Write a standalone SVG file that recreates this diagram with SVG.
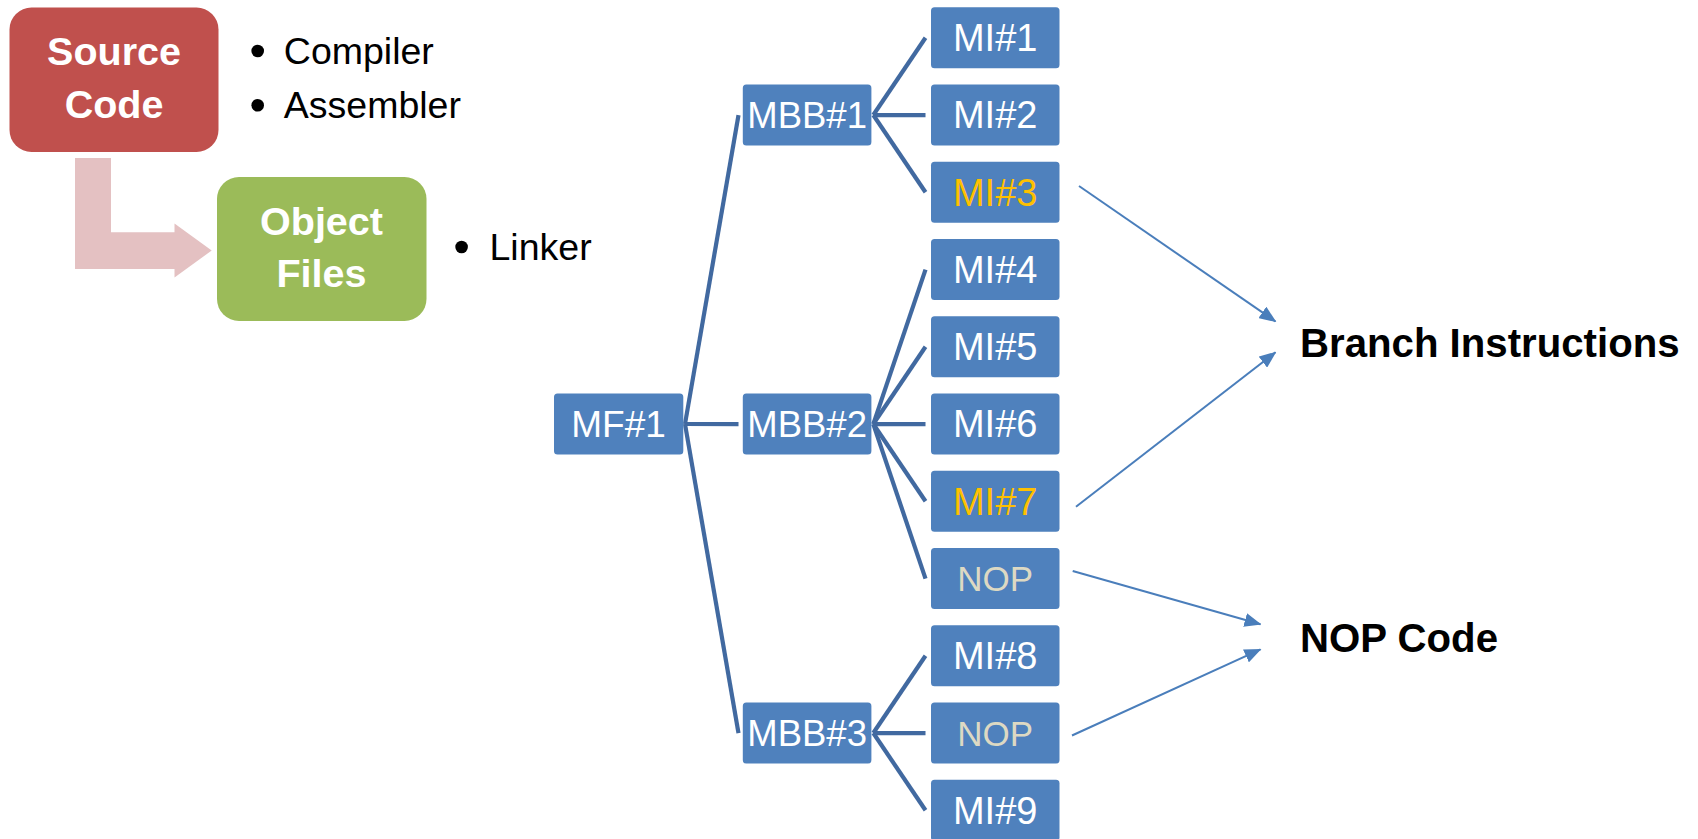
<svg xmlns="http://www.w3.org/2000/svg" width="1698" height="839" viewBox="0 0 1698 839">
  <style>
    .t{font-family:"Liberation Sans",Arial,sans-serif}
    .box{fill:#4F81BD}
    .lbl{fill:#fff;text-anchor:middle}
    .mi{font-size:38px}
    .mbb{font-size:36.5px}
    .nop{font-size:35px;fill:#DDD9C3}
    .br{fill:#FFC000}
    .head{font-size:39.5px;font-weight:bold;fill:#fff;text-anchor:middle}
    .bul{font-size:37.5px;fill:#000}
    .note{font-size:40.2px;font-weight:bold;fill:#000}
    .tree{stroke:#4169A0;stroke-width:4.2;fill:none;stroke-linecap:butt}
    .ptr{stroke:#4A7EBB;stroke-width:2;fill:none;marker-end:url(#ah)}
  </style>
  <defs>
    <marker id="ah" markerUnits="userSpaceOnUse" markerWidth="17" markerHeight="14" viewBox="0 0 17 14" refX="16" refY="7" orient="auto">
      <path d="M0,0 L17,7 L0,14 z" fill="#4A7EBB"/>
    </marker>
  </defs>

  <rect width="1698" height="839" fill="#fff"/>

  <!-- build flow, top left -->
  <g id="flow-arrow">
    <polygon points="75,158 111,158 111,232.3 174.5,232.3 174.5,223.5 211.7,250.5 174.5,277.5 174.5,269 75,269" fill="#E4C1C2"/>
  </g>
  <g id="source-code">
    <rect x="9.5" y="7.5" width="209" height="144.5" rx="22" fill="#C0504D"/>
    <text class="t head" x="114" y="65">Source</text>
    <text class="t head" x="114" y="118.3">Code</text>
  </g>
  <g id="source-tools">
    <circle cx="257.7" cy="51" r="6.3"/>
    <text class="t bul" x="283.8" y="64">Compiler</text>
    <circle cx="257.7" cy="105.3" r="6.3"/>
    <text class="t bul" x="283.8" y="118.3">Assembler</text>
  </g>
  <g id="object-files">
    <rect x="217" y="177" width="209.5" height="144" rx="22" fill="#9BBB59"/>
    <text class="t head" x="321.5" y="235">Object</text>
    <text class="t head" x="321.5" y="287.3">Files</text>
  </g>
  <g id="object-tools">
    <circle cx="461.6" cy="247" r="6.3"/>
    <text class="t bul" x="489.5" y="260">Linker</text>
  </g>

  <!-- hierarchy connectors -->
  <g id="connectors">
    <g class="tree">
      <line x1="685" y1="424" x2="738.5" y2="115.05"/>
      <line x1="685" y1="424" x2="738.5" y2="424.05"/>
      <line x1="685" y1="424" x2="738.5" y2="733.05"/>

      <line x1="873.3" y1="115.05" x2="925.5" y2="37.8"/>
      <line x1="873.3" y1="115.05" x2="925.5" y2="115.05"/>
      <line x1="873.3" y1="115.05" x2="925.5" y2="192.3"/>

      <line x1="873.3" y1="424.05" x2="925.5" y2="269.55"/>
      <line x1="873.3" y1="424.05" x2="925.5" y2="346.8"/>
      <line x1="873.3" y1="424.05" x2="925.5" y2="424.05"/>
      <line x1="873.3" y1="424.05" x2="925.5" y2="501.3"/>
      <line x1="873.3" y1="424.05" x2="925.5" y2="578.55"/>

      <line x1="873.3" y1="733.05" x2="925.5" y2="655.8"/>
      <line x1="873.3" y1="733.05" x2="925.5" y2="733.05"/>
      <line x1="873.3" y1="733.05" x2="925.5" y2="810.3"/>
    </g>
    <g class="ptr">
      <line x1="1079" y1="186" x2="1275.5" y2="321.5"/>
      <line x1="1076" y1="506.7" x2="1275.5" y2="352.3"/>
      <line x1="1072.7" y1="571" x2="1260.5" y2="624.3"/>
      <line x1="1072" y1="735.5" x2="1260.5" y2="649.3"/>
    </g>
  </g>

  <!-- function / blocks / instructions -->
  <g id="mf1">
    <rect class="box" x="554" y="393.55" width="129.3" height="61" rx="3.5"/>
    <text class="t lbl" x="618.6" y="437.3" font-size="37">MF#1</text>
  </g>
  <g id="mbb1">
    <rect class="box" x="742.8" y="84.55" width="128.6" height="61" rx="3.5"/>
    <text class="t lbl mbb" x="807.1" y="128.3">MBB#1</text>
  </g>
  <g id="mbb2">
    <rect class="box" x="742.8" y="393.55" width="128.6" height="61" rx="3.5"/>
    <text class="t lbl mbb" x="807.1" y="437.3">MBB#2</text>
  </g>
  <g id="mbb3">
    <rect class="box" x="742.8" y="702.55" width="128.6" height="61" rx="3.5"/>
    <text class="t lbl mbb" x="807.1" y="746.3">MBB#3</text>
  </g>

  <g id="mi1">
    <rect class="box" x="931" y="7.3" width="128.5" height="61" rx="3.5"/>
    <text class="t lbl mi" x="995.2" y="51.1">MI#1</text>
  </g>
  <g id="mi2">
    <rect class="box" x="931" y="84.55" width="128.5" height="61" rx="3.5"/>
    <text class="t lbl mi" x="995.2" y="128.3">MI#2</text>
  </g>
  <g id="mi3">
    <rect class="box" x="931" y="161.8" width="128.5" height="61" rx="3.5"/>
    <text class="t lbl mi br" x="995.2" y="205.6">MI#3</text>
  </g>
  <g id="mi4">
    <rect class="box" x="931" y="239.05" width="128.5" height="61" rx="3.5"/>
    <text class="t lbl mi" x="995.2" y="282.8">MI#4</text>
  </g>
  <g id="mi5">
    <rect class="box" x="931" y="316.3" width="128.5" height="61" rx="3.5"/>
    <text class="t lbl mi" x="995.2" y="360.1">MI#5</text>
  </g>
  <g id="mi6">
    <rect class="box" x="931" y="393.55" width="128.5" height="61" rx="3.5"/>
    <text class="t lbl mi" x="995.2" y="437.3">MI#6</text>
  </g>
  <g id="mi7">
    <rect class="box" x="931" y="470.8" width="128.5" height="61" rx="3.5"/>
    <text class="t lbl mi br" x="995.2" y="514.6">MI#7</text>
  </g>
  <g id="nop1">
    <rect class="box" x="931" y="548.05" width="128.5" height="61" rx="3.5"/>
    <text class="t lbl nop" x="995.2" y="591.3">NOP</text>
  </g>
  <g id="mi8">
    <rect class="box" x="931" y="625.3" width="128.5" height="61" rx="3.5"/>
    <text class="t lbl mi" x="995.2" y="669.1">MI#8</text>
  </g>
  <g id="nop2">
    <rect class="box" x="931" y="702.55" width="128.5" height="61" rx="3.5"/>
    <text class="t lbl nop" x="995.2" y="745.8">NOP</text>
  </g>
  <g id="mi9">
    <rect class="box" x="931" y="779.8" width="128.5" height="61" rx="3.5"/>
    <text class="t lbl mi" x="995.2" y="823.6">MI#9</text>
  </g>

  <!-- category labels -->
  <g id="branch-label">
    <text class="t note" x="1300" y="356.7">Branch Instructions</text>
  </g>
  <g id="nop-label">
    <text class="t note" x="1300" y="651.7">NOP Code</text>
  </g>
</svg>
